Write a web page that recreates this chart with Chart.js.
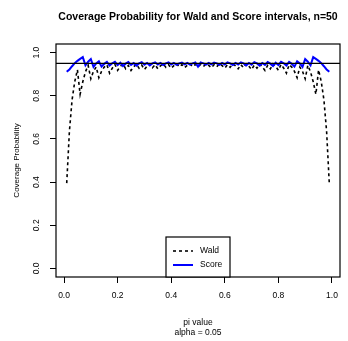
<!DOCTYPE html>
<html>
<head>
<meta charset="utf-8">
<script src="https://cdn.jsdelivr.net/npm/chart.js@4"></script>
<style>
  html, body { margin: 0; padding: 0; background: #fff; }
  #wrap { width: 348px; height: 341px; }
</style>
</head>
<body>
<div id="wrap"><canvas id="cov"></canvas></div>
<script>
// pi values on the x axis
const piValues = [0.01,0.02,0.03,0.04,0.05,0.06,0.07,0.08,0.09,0.10,
  0.11,0.12,0.13,0.14,0.15,0.16,0.17,0.18,0.19,0.20,
  0.21,0.22,0.23,0.24,0.25,0.26,0.27,0.28,0.29,0.30,
  0.31,0.32,0.33,0.34,0.35,0.36,0.37,0.38,0.39,0.40,
  0.41,0.42,0.43,0.44,0.45,0.46,0.47,0.48,0.49,0.50,
  0.51,0.52,0.53,0.54,0.55,0.56,0.57,0.58,0.59,0.60,
  0.61,0.62,0.63,0.64,0.65,0.66,0.67,0.68,0.69,0.70,
  0.71,0.72,0.73,0.74,0.75,0.76,0.77,0.78,0.79,0.80,
  0.81,0.82,0.83,0.84,0.85,0.86,0.87,0.88,0.89,0.90,
  0.91,0.92,0.93,0.94,0.95,0.96,0.97,0.98,0.99];

// Wald coverage (dashed black)
const waldCoverage = [.395,.635,.781,.866,.920,.807,.865,.911,.941,.879,
  .914,.933,.884,.913,.933,.944,.905,.928,.945,.918,
  .936,.948,.925,.941,.917,.934,.947,.928,.942,.922,
  .937,.948,.930,.944,.925,.939,.948,.932,.944,.928,
  .940,.949,.934,.944,.930,.941,.948,.935,.945,.935,
  .945,.935,.948,.941,.930,.944,.934,.949,.940,.928,
  .944,.932,.948,.939,.925,.944,.930,.948,.937,.922,
  .942,.928,.947,.934,.917,.941,.925,.948,.936,.918,
  .945,.928,.905,.944,.933,.913,.884,.933,.914,.879,
  .941,.911,.865,.807,.920,.866,.781,.635,.395];

// Score coverage (solid blue)
const scoreCoverage = [.911,.922,.937,.951,.962,.971,.979,.941,.958,.970,
  .934,.950,.960,.935,.948,.957,.940,.951,.958,.942,
  .953,.938,.949,.956,.943,.952,.940,.950,.956,.944,
  .952,.941,.950,.955,.945,.952,.942,.950,.955,.945,
  .952,.943,.950,.954,.946,.952,.944,.950,.954,.935,
  .954,.950,.944,.952,.946,.954,.950,.943,.952,.945,
  .955,.950,.942,.952,.945,.955,.950,.941,.952,.944,
  .956,.950,.940,.952,.943,.956,.949,.938,.953,.942,
  .958,.951,.940,.957,.948,.935,.960,.950,.934,.970,
  .958,.941,.979,.971,.962,.951,.937,.922,.911];

const nominal = 0.95;
const xTicks = [0, 0.2, 0.4, 0.6, 0.8, 1.0];
const yTicks = [0, 0.2, 0.4, 0.6, 0.8, 1.0];
const xLimits = [-0.03, 1.03];
const yLimits = [-0.04, 1.04];

const FONT = "'Liberation Sans', Arial, Helvetica, sans-serif";

const toPoints = ys => piValues.map((x, i) => ({ x: x, y: ys[i] }));

// box around the plot + legend inside bottom + main title
const framePlugin = {
  id: 'frame',
  afterDraw(chart) {
    const { ctx, chartArea: a } = chart;
    ctx.save();
    ctx.strokeStyle = '#000';
    ctx.lineWidth = 1.2;
    ctx.strokeRect(a.left, a.top, a.right - a.left, a.bottom - a.top);

    // legend
    const lx = 166, ly = 237, lw = 64, lh = a.bottom - 237;
    ctx.fillStyle = '#fff';
    ctx.fillRect(lx, ly, lw, lh);
    ctx.strokeRect(lx, ly, lw, lh);
    const items = chart.data.datasets.filter(d => d.inLegend);
    items.forEach((d, i) => {
      const yy = 251 + i * 14;
      ctx.beginPath();
      ctx.strokeStyle = d.borderColor;
      ctx.lineWidth = d.borderWidth;
      ctx.setLineDash(d.borderDash || []);
      ctx.moveTo(173, yy);
      ctx.lineTo(193, yy);
      ctx.stroke();
      ctx.setLineDash([]);
      ctx.fillStyle = '#000';
      ctx.font = '8.5px ' + FONT;
      ctx.textBaseline = 'middle';
      ctx.textAlign = 'left';
      ctx.fillText(d.label, 200, yy);
    });

    // title
    ctx.fillStyle = '#000';
    ctx.font = 'bold 10.5px ' + FONT;
    ctx.textAlign = 'center';
    ctx.textBaseline = 'middle';
    ctx.fillText('Coverage Probability for Wald and Score intervals, n=50', (a.left + a.right) / 2, 17);
    ctx.restore();
  }
};

new Chart(document.getElementById('cov'), {
  type: 'line',
  data: {
    datasets: [
      {
        label: 'Wald',
        data: toPoints(waldCoverage),
        borderColor: '#000',
        borderWidth: 1.6,
        borderDash: [3, 3],
        pointRadius: 0,
        tension: 0,
        inLegend: true,
        order: 3
      },
      {
        label: 'Score',
        data: toPoints(scoreCoverage),
        borderColor: '#0000ff',
        borderWidth: 2,
        pointRadius: 0,
        tension: 0,
        inLegend: true,
        order: 2
      },
      {
        label: 'nominal',
        data: [{ x: xLimits[0], y: nominal }, { x: xLimits[1], y: nominal }],
        borderColor: '#000',
        borderWidth: 1.2,
        pointRadius: 0,
        order: 1
      }
    ]
  },
  options: {
    responsive: true,
    maintainAspectRatio: false,
    animation: false,
    layout: { padding: { top: 44, right: 8, left: 0, bottom: 0 } },
    plugins: {
      legend: { display: false },
      tooltip: { enabled: false }
    },
    scales: {
      x: {
        type: 'linear',
        min: xLimits[0],
        max: xLimits[1],
        afterBuildTicks: s => { s.ticks = xTicks.map(v => ({ value: v })); },
        afterFit: s => { s.height = 64; },
        grid: { drawOnChartArea: false, drawTicks: true, tickLength: 6, color: '#000', lineWidth: 1 },
        border: { display: false },
        ticks: {
          color: '#000',
          padding: 8,
          maxRotation: 0,
          font: { family: FONT, size: 8.5 },
          callback: v => v.toFixed(1)
        },
        title: {
          display: true,
          text: ['pi value', 'alpha = 0.05'],
          color: '#000',
          font: { family: FONT, size: 8.5, lineHeight: 1.18 },
          padding: { top: 0, bottom: 3 }
        }
      },
      y: {
        type: 'linear',
        min: yLimits[0],
        max: yLimits[1],
        afterBuildTicks: s => { s.ticks = yTicks.map(v => ({ value: v })); },
        afterFit: s => { s.width = 56; },
        grid: { drawOnChartArea: false, drawTicks: true, tickLength: 6, color: '#000', lineWidth: 1 },
        border: { display: false },
        ticks: {
          color: '#000',
          padding: 7,
          minRotation: 90,
          maxRotation: 90,
          crossAlign: 'center',
          font: { family: FONT, size: 8.5 },
          callback: v => v.toFixed(1)
        },
        title: {
          display: true,
          text: 'Coverage Probability',
          color: '#000',
          font: { family: FONT, size: 8 },
          padding: { top: 12, bottom: 0 }
        }
      }
    }
  },
  plugins: [framePlugin]
});
</script>
</body>
</html>
